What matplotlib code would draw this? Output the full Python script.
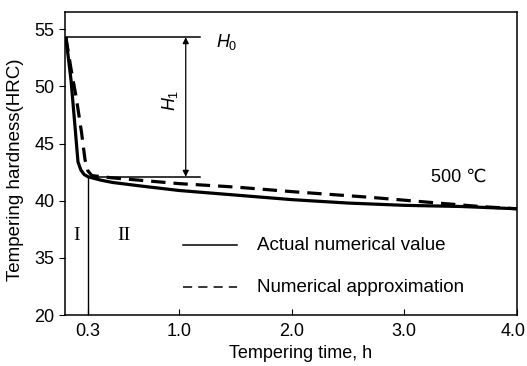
import numpy as np
import matplotlib
matplotlib.use("Agg")
import matplotlib.pyplot as plt
import matplotlib.transforms as mtransforms

plt.rcParams['font.family'] = ['Liberation Sans', 'DejaVu Sans']
plt.rcParams['mathtext.fontset'] = 'custom'
plt.rcParams['mathtext.it'] = 'Liberation Sans:italic'
plt.rcParams['mathtext.rm'] = 'Liberation Sans'

# tempering time (h) and hardness (HRC)
t_actual = [0.13, 0.17, 0.20, 0.223, 0.245, 0.27, 0.30, 0.40, 0.49, 0.70, 1.0, 1.5, 2.0, 2.5, 3.0, 3.5, 4.0]
hrc_actual = [54.3, 50.5, 46.5, 43.4, 42.7, 42.3, 42.1, 41.8, 41.6, 41.3, 40.9, 40.5, 40.1, 39.8, 39.6, 39.5, 39.3]
t_approx = [0.13, 0.17, 0.21, 0.25, 0.277, 0.30, 0.33, 0.49, 1.0, 1.5, 2.0, 2.7, 3.3, 3.67, 4.0]
hrc_approx = [54.3, 51.5, 49.0, 46.0, 43.6, 42.6, 42.2, 42.0, 41.5, 41.2, 40.8, 40.3, 39.8, 39.5, 39.3]

x_ticks = [0.3, 1.0, 2.0, 3.0, 4.0]
x_labels = ['0.3', '1.0', '2.0', '3.0', '4.0']
y_ticks = [30, 35, 40, 45, 50, 55]
y_labels = ['20', '35', '40', '45', '50', '55']   # broken axis: 20 sits where 30 would be

H0 = 54.3
H_knee = 42.1

# uneven spacing of the time axis
seg_h = [0.0, 0.3, 1.0, 4.0, 5.0]
seg_p = [49.0, 88.0, 179.0, 517.0, 629.7]
fwd = lambda h: np.interp(h, seg_h, seg_p)
inv = lambda p: np.interp(p, seg_p, seg_h)

fig = plt.figure(figsize=(5.27, 3.66), dpi=100)
ax = fig.add_axes([0.1233, 0.139, 0.8577, 0.828])
ax.set_xscale('function', functions=(fwd, inv))

ax.plot(t_actual, hrc_actual, color='black', lw=2.3, solid_capstyle='butt')
ax.plot(t_approx, hrc_approx, color='black', lw=2.3, dashes=(4.5, 2.5))

# H0 / H1 markers
ax.plot([0.13, 1.19], [H0, H0], color='black', lw=1.1)
ax.plot([0.3, 1.19], [H_knee, H_knee], color='black', lw=1.1)
ax.plot([0.3, 0.3], [30, H_knee], color='black', lw=1.0)
ax.annotate('', xy=(1.06, H0), xytext=(1.06, H_knee),
            arrowprops=dict(arrowstyle='<|-|>', color='black', lw=0.9,
                            mutation_scale=9, shrinkA=0, shrinkB=0))
ax.text(1.33, 53.9, r'$H_0$', fontsize=13, va='center', ha='left')
ax.text(0.93, 48.8, r'$H_1$', fontsize=13, va='center', ha='center', rotation=90)
ax.text(0.215, 37.0, 'I', fontsize=14, family='Liberation Serif', ha='center', va='center')
ax.text(0.58, 37.0, 'II', fontsize=14, family='Liberation Serif', ha='center', va='center')
ax.text(3.24, 42.1, '500 \u2103', fontsize=13, ha='left', va='center')

# legend drawn as lines in axes coordinates
ax.plot([0.261, 0.38], [0.23, 0.23], transform=ax.transAxes, color='black', lw=1.1)
ax.plot([0.261, 0.38], [0.092, 0.092], transform=ax.transAxes, color='black', lw=1.1, dashes=(6, 4))
ax.text(0.425, 0.23, 'Actual numerical value', transform=ax.transAxes, fontsize=13.5, va='center')
ax.text(0.425, 0.092, 'Numerical approximation', transform=ax.transAxes, fontsize=13.5, va='center')

ax.set_xlim(0.123, 4.0)
ax.set_ylim(30, 56.5)
ax.set_xticks(x_ticks)
ax.set_xticklabels(x_labels)
ax.set_yticks(y_ticks)
ax.set_yticklabels(y_labels)
ax.tick_params(axis='x', direction='in', length=4, labelsize=13, pad=6)
ax.tick_params(axis='y', direction='out', length=4, labelsize=13)
ax.minorticks_off()
for s in ax.spines.values():
    s.set_linewidth(1.1)

# last x label sits right at the figure edge, pull it in a little
lbl = ax.get_xticklabels()[-1]
lbl.set_transform(lbl.get_transform() + mtransforms.ScaledTranslation(-4/100, 0, fig.dpi_scale_trans))

ax.set_xlabel('Tempering time, h', fontsize=13)
ax.xaxis.set_label_coords(0.522, -0.098)
ax.set_ylabel('Tempering hardness(HRC)', fontsize=13.5)
ax.yaxis.set_label_coords(-0.09, 0.479)

fig.savefig('out.png', dpi=100)
